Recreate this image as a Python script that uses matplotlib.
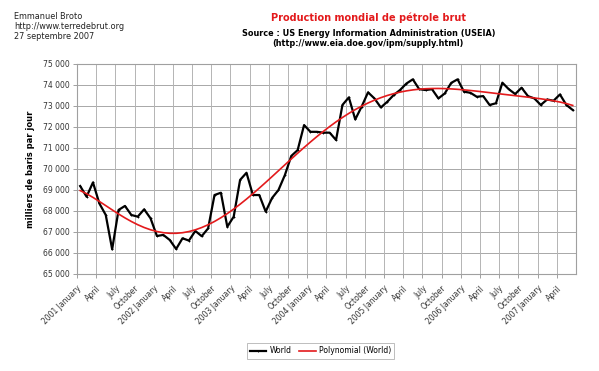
import numpy as np
import matplotlib
matplotlib.use("Agg")
import matplotlib.pyplot as plt

# Monthly world crude oil production, thousand barrels/day (2001 Jan .. 2007 Jun)
world = [69190, 68680, 69360, 68360, 67810, 66175, 68050, 68240, 67810, 67730,
         68080, 67650, 66810, 66860, 66620, 66190, 66700, 66590, 67050, 66800,
         67170, 68760, 68870, 67250, 67730, 69480, 69820, 68760, 68760, 67970,
         68620, 69000, 69710, 70620, 70900, 72090, 71770, 71770, 71730, 71730,
         71380, 73050, 73410, 72360, 72970, 73650, 73360, 72930, 73200, 73520,
         73760, 74070, 74270, 73800, 73760, 73800, 73360, 73600, 74100, 74270,
         73680, 73630, 73440, 73470, 73050, 73130, 74110, 73800, 73570, 73870,
         73470, 73360, 73050, 73310, 73250, 73550, 73050, 72810]

years = ["2001", "2002", "2003", "2004", "2005", "2006", "2007"]
quarter_months = ["January", "April", "July", "October"]
tick_labels = []
for y in years:
    for q in quarter_months:
        tick_labels.append(f"{y} {q}" if q == "January" else q)
tick_labels = tick_labels[:26]

y_ticks = list(range(65000, 75001, 1000))

x = np.arange(len(world))
# polynomial trendline (order 6) computed from the data, as Excel does
coef = np.polyfit(x, world, 6)
trend = np.polyval(coef, x)

fig = plt.figure(figsize=(5.99, 3.71), dpi=100)
ax = fig.add_axes([0.1285, 0.2615, 0.833, 0.566])

ax.plot(x, world, color="black", lw=1.6, marker="+", ms=2, mew=0.6,
        label="World", zorder=3)
ax.plot(x, trend, color="#e31a1c", lw=1.2, label="Polynomial (World)", zorder=4)

ax.set_xlim(-0.5, len(world) - 0.5)
ax.set_ylim(65000, 75000)

ax.set_xticks(np.arange(26) * 3 - 0.5)
ax.set_xticklabels(tick_labels, rotation=45, ha="right", va="top",
                   rotation_mode="anchor", fontsize=5.5, color="#333333")
ax.set_yticks(y_ticks)
ax.set_yticklabels([f"{v:,}".replace(",", " ") for v in y_ticks],
                   fontsize=5.5, color="#333333")
ax.tick_params(axis="both", length=3, width=0.6, color="#909090", pad=2)
ax.tick_params(axis="x", pad=4)

# vertical grid every quarter incl. right edge
for b in np.arange(27) * 3 - 0.5:
    ax.axvline(b, color="#b4b4b4", lw=0.7, zorder=1)
ax.yaxis.grid(True, color="#a8a8a8", lw=0.7, zorder=1)
ax.set_axisbelow(True)
for s in ax.spines.values():
    s.set_color("#a0a0a0")
    s.set_linewidth(0.8)

ax.set_ylabel("milliers de baris par jour", fontsize=6, fontweight="bold",
              labelpad=6)

fig.text(0.023, 0.967, "Emmanuel Broto\nhttp://www.terredebrut.org\n27 septembre 2007",
         fontsize=5.9, va="top", ha="left", linespacing=1.1, color="#222222")
fig.text(0.615, 0.952, "Production mondial de pétrole brut", color="#e31a1c",
         fontsize=7, fontweight="bold", ha="center", va="center")
fig.text(0.615, 0.911, "Source : US Energy Information Administration (USEIA)",
         fontsize=5.9, fontweight="bold", ha="center", va="center")
fig.text(0.615, 0.884, "(http://www.eia.doe.gov/ipm/supply.html)",
         fontsize=5.9, fontweight="bold", ha="center", va="center")

leg = fig.legend(loc="center", bbox_to_anchor=(0.535, 0.054), ncol=2,
                 fontsize=5.5, frameon=True, fancybox=False, handlelength=2.2,
                 handletextpad=0.4, columnspacing=1.0, borderpad=0.4)
leg.get_frame().set_edgecolor("#a0a0a0")
leg.get_frame().set_linewidth(0.6)

fig.savefig("out.png", dpi=100)
